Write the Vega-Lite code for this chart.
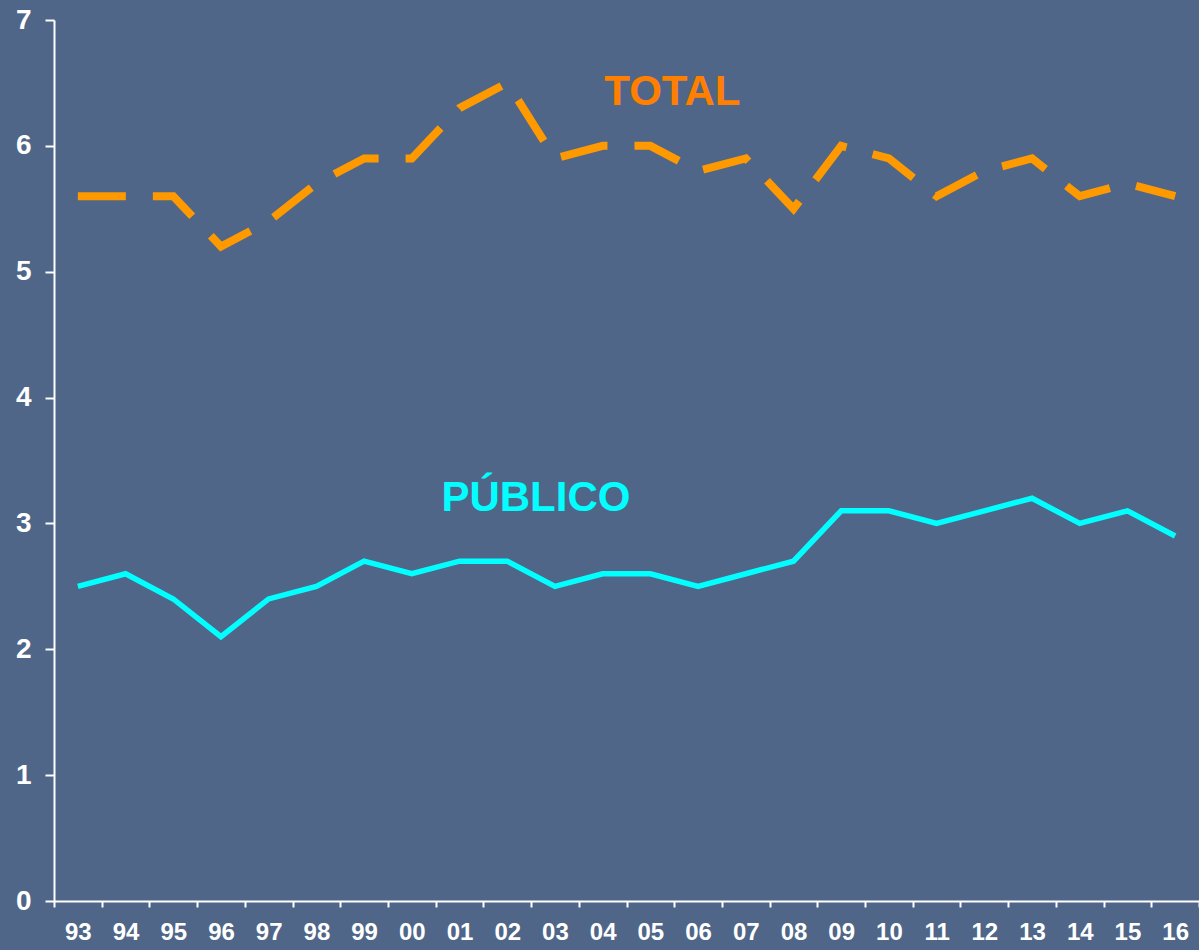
{
  "$schema": "https://vega.github.io/schema/vega-lite/v6.json",
  "width": 1145,
  "height": 881,
  "autosize": "none",
  "padding": {"left": 54, "top": 20, "right": 0, "bottom": 49},
  "background": "#4F6688",
  "config": {
    "view": {"stroke": null},
    "font": "Liberation Sans"
  },
  "data": {
    "values": [
      {"year": "93", "total": 5.6, "publico": 2.5},
      {"year": "94", "total": 5.6, "publico": 2.6},
      {"year": "95", "total": 5.6, "publico": 2.4},
      {"year": "96", "total": 5.2, "publico": 2.1},
      {"year": "97", "total": 5.4, "publico": 2.4},
      {"year": "98", "total": 5.7, "publico": 2.5},
      {"year": "99", "total": 5.9, "publico": 2.7},
      {"year": "00", "total": 5.9, "publico": 2.6},
      {"year": "01", "total": 6.3, "publico": 2.7},
      {"year": "02", "total": 6.5, "publico": 2.7},
      {"year": "03", "total": 5.9, "publico": 2.5},
      {"year": "04", "total": 6.0, "publico": 2.6},
      {"year": "05", "total": 6.0, "publico": 2.6},
      {"year": "06", "total": 5.8, "publico": 2.5},
      {"year": "07", "total": 5.9, "publico": 2.6},
      {"year": "08", "total": 5.5, "publico": 2.7},
      {"year": "09", "total": 6.0, "publico": 3.1},
      {"year": "10", "total": 5.9, "publico": 3.1},
      {"year": "11", "total": 5.6, "publico": 3.0},
      {"year": "12", "total": 5.8, "publico": 3.1},
      {"year": "13", "total": 5.9, "publico": 3.2},
      {"year": "14", "total": 5.6, "publico": 3.0},
      {"year": "15", "total": 5.7, "publico": 3.1},
      {"year": "16", "total": 5.6, "publico": 2.9}
    ]
  },
  "encoding": {
    "x": {
      "field": "year",
      "type": "ordinal",
      "sort": null,
      "bandPosition": 0.5,
      "scale": {"type": "band", "paddingInner": 0, "paddingOuter": 0},
      "axis": {
        "title": null,
        "labelAngle": 0,
        "tickBand": "extent",
        "tickSize": 6,
        "tickWidth": 2,
        "tickColor": "white",
        "domainColor": "white",
        "domainWidth": 2,
        "labelColor": "white",
        "labelFont": "Liberation Sans",
        "labelFontWeight": "bold",
        "labelFontSize": 24,
        "labelPadding": 13
      }
    }
  },
  "layer": [
    {
      "mark": {"type": "line", "color": "#FF9900", "strokeWidth": 8, "strokeDash": [48, 27], "strokeCap": "butt"},
      "encoding": {
        "y": {
          "field": "total",
          "type": "quantitative",
          "scale": {"domain": [0, 7], "nice": false},
          "axis": {
            "title": null,
            "values": [0, 1, 2, 3, 4, 5, 6, 7],
            "format": "d",
            "grid": false,
            "tickSize": 9,
            "tickWidth": 2,
            "tickColor": "white",
            "domainColor": "white",
            "domainWidth": 2,
            "labelColor": "white",
            "labelFont": "Liberation Sans",
            "labelFontWeight": "bold",
            "labelFontSize": 28,
            "labelPadding": 14
          }
        }
      }
    },
    {
      "mark": {"type": "line", "color": "#00FFFF", "strokeWidth": 5.5},
      "encoding": {
        "y": {"field": "publico", "type": "quantitative"}
      }
    },
    {
      "data": {
        "values": [
          {"year": "05", "value": 6.43, "label": "TOTAL"}
        ]
      },
      "mark": {"type": "text", "fontSize": 42, "fontWeight": "bold", "font": "Liberation Sans", "baseline": "middle", "align": "center", "color": "#FF8000", "dx": 22},
      "encoding": {
        "x": {"field": "year", "type": "ordinal", "sort": null},
        "y": {"field": "value", "type": "quantitative"},
        "text": {"field": "label"}
      }
    },
    {
      "data": {
        "values": [
          {"year": "03", "value": 3.2, "label": "PÚBLICO"}
        ]
      },
      "mark": {"type": "text", "fontSize": 42, "fontWeight": "bold", "font": "Liberation Sans", "baseline": "middle", "align": "center", "color": "#00FFFF", "dx": -19},
      "encoding": {
        "x": {"field": "year", "type": "ordinal", "sort": null},
        "y": {"field": "value", "type": "quantitative"},
        "text": {"field": "label"}
      }
    }
  ]
}
